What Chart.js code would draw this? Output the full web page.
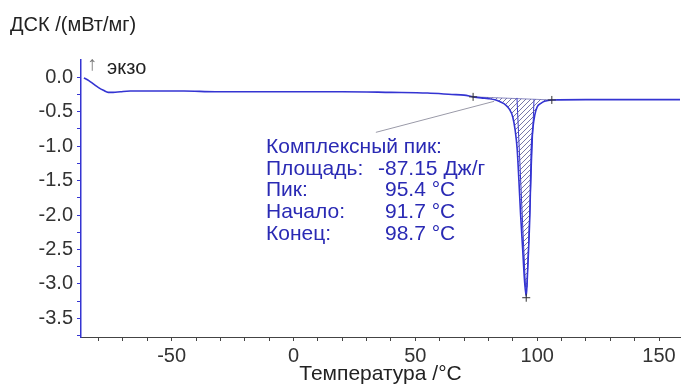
<!DOCTYPE html>
<html>
<head>
<meta charset="utf-8">
<script src="https://cdn.jsdelivr.net/npm/chart.js@4/dist/chart.umd.min.js"></script>
<style>
    html, body { margin: 0; padding: 0; background: #fff; }
    #box { width: 685px; height: 387px; position: relative; }
</style>
</head>
<body>
<div id="box"><canvas id="dscChart"></canvas></div>
<script>
// кривая ДСК (температура °C / мВт/мг)
const temps = [-86, -84, -82, -80, -78, -76, -74, -71, -67, -60, -45, -32, -20, 0, 20, 40, 55, 65, 70, 73.7,
    77, 80, 83, 85, 87, 88.5, 90, 91, 91.8, 92.5, 93.2, 94, 94.8, 95.5, 95.9, 96.5, 97, 97.3, 97.6, 98.2,
    99, 100, 101.5, 103, 106, 120, 140, 160];
const dsc = [-0.01, -0.05, -0.10, -0.15, -0.19, -0.22, -0.22, -0.21, -0.20, -0.20, -0.20, -0.21, -0.21, -0.21, -0.21, -0.22, -0.23, -0.25, -0.26, -0.285,
    -0.30, -0.31, -0.33, -0.36, -0.40, -0.46, -0.58, -0.78, -1.05, -1.5, -2.0, -2.47, -2.95, -3.18, -2.95, -2.47, -1.98, -1.5, -1.05, -0.75,
    -0.55, -0.43, -0.38, -0.35, -0.33, -0.325, -0.325, -0.325];

// базовая линия интегрирования пика
const baseT = [73.7, 106];
const baseV = [-0.285, -0.33];

// касательные (начало / конец)
const tanLeftT = [91.7, 95.2];
const tanLeftV = [-0.30, -3.05];
const tanRightT = [98.7, 95.8];
const tanRightV = [-0.32, -3.05];

// маркеры "+"
const markT = [73.7, 95.5, 106];
const markV = [-0.285, -3.2, -0.33];

// линия-выноска к подписи
const leaderT = [33.8, 82.3];
const leaderV = [-0.80, -0.35];

const xTicks = [-80, -70, -60, -50, -40, -30, -20, -10, 0, 10, 20, 30, 40, 50, 60, 70, 80, 90, 100, 110, 120, 130, 140, 150];
const yTicks = [0, -0.25, -0.5, -0.75, -1.0, -1.25, -1.5, -1.75, -2.0, -2.25, -2.5, -2.75, -3.0, -3.25, -3.5, -3.75];

const peakLabels = ["Комплексный пик:", "Площадь:", "Пик:", "Начало:", "Конец:"];
const peakValues = ["", "-87.15 Дж/г", "95.4 °C", "91.7 °C", "98.7 °C"];

const curveColor = "#3434d2";
const textBlue = "#2a2ab4";
const fontFam = "'Liberation Sans', Arial, sans-serif";

function pts(xs, ys) {
    return xs.map((x, i) => ({x: x, y: ys[i]}));
}

function hatchPattern() {
    const c = document.createElement('canvas');
    c.width = 5;
    c.height = 5;
    const g = c.getContext('2d');
    g.strokeStyle = 'rgba(95,95,150,0.85)';
    g.lineWidth = 1;
    g.beginPath();
    g.moveTo(0, 5); g.lineTo(5, 0);
    g.moveTo(-1, 1); g.lineTo(1, -1);
    g.moveTo(4, 6); g.lineTo(6, 4);
    g.stroke();
    return g.createPattern(c, 'repeat');
}

// подписи поверх графика
const textPlugin = {
    id: 'texts',
    afterDraw(chart) {
        const ctx = chart.ctx;
        ctx.save();
        ctx.textBaseline = 'middle';
        ctx.textAlign = 'left';
        ctx.font = "20px " + fontFam;
        ctx.fillStyle = '#222';
        ctx.fillText("ДСК /(мВт/мг)", 10, 25);
        ctx.fillStyle = '#777';
        ctx.fillText("↑", 87, 64);
        ctx.fillStyle = '#222';
        ctx.fillText("экзо", 107, 68);

        ctx.font = "21px " + fontFam;
        ctx.fillStyle = textBlue;
        const ys = [147, 169, 190, 212, 234];
        for (let i = 0; i < peakLabels.length; i++) {
            ctx.fillText(peakLabels[i], 266, ys[i]);
            if (peakValues[i]) {
                ctx.fillText(peakValues[i], i === 1 ? 378 : 385, ys[i]);
            }
        }
        ctx.restore();
    }
};

function drawChart() {
    const ctx = document.getElementById('dscChart').getContext('2d');
    new Chart(ctx, {
        type: 'line',
        data: {
            datasets: [{
                label: 'ДСК',
                data: pts(temps, dsc),
                borderColor: curveColor,
                borderWidth: 1.6,
                pointRadius: 0,
                cubicInterpolationMode: 'monotone',
                backgroundColor: hatchPattern(),
                fill: {target: 1},
                order: 1
            }, {
                label: 'база',
                data: pts(baseT, baseV),
                borderColor: 'rgba(90,90,170,0.7)',
                borderWidth: 1,
                pointRadius: 0,
                fill: false,
                order: 3
            }, {
                label: 'начало',
                data: pts(tanLeftT, tanLeftV),
                borderColor: curveColor,
                borderWidth: 1,
                pointRadius: 0,
                fill: false,
                order: 2
            }, {
                label: 'конец',
                data: pts(tanRightT, tanRightV),
                borderColor: curveColor,
                borderWidth: 1,
                pointRadius: 0,
                fill: false,
                order: 2
            }, {
                label: 'выноска',
                data: pts(leaderT, leaderV),
                borderColor: '#9a9aa8',
                borderWidth: 1,
                pointRadius: 0,
                fill: false,
                order: 4
            }, {
                label: 'маркеры',
                data: pts(markT, markV),
                showLine: false,
                pointStyle: 'cross',
                pointRadius: 4,
                pointBorderColor: '#333',
                pointBorderWidth: 1,
                order: 0
            }]
        },
        options: {
            responsive: true,
            maintainAspectRatio: false,
            animation: false,
            layout: {padding: {top: 60, right: 1, left: 0, bottom: 0}},
            plugins: {
                legend: {display: false},
                tooltip: {enabled: false}
            },
            scales: {
                x: {
                    type: 'linear',
                    min: -87.2,
                    max: 158.6,
                    afterBuildTicks: s => { s.ticks = xTicks.map(v => ({value: v})); },
                    afterFit: s => { s.height = 50; },
                    grid: {drawOnChartArea: false, drawTicks: true, tickLength: 4, color: '#444'},
                    border: {color: '#444', width: 1},
                    ticks: {
                        autoSkip: false,
                        maxRotation: 0,
                        padding: 3,
                        color: '#333',
                        font: {family: fontFam, size: 20},
                        callback: v => (v % 50 === 0 ? String(v) : '')
                    },
                    title: {
                        display: true,
                        text: 'Температура /°C',
                        color: '#222',
                        font: {family: fontFam, size: 21},
                        padding: {top: 0, bottom: 0}
                    }
                },
                y: {
                    type: 'linear',
                    min: -3.77,
                    max: 0.25,
                    afterBuildTicks: s => { s.ticks = yTicks.map(v => ({value: v})); },
                    afterFit: s => { s.width = 81; },
                    grid: {drawOnChartArea: false, drawTicks: true, tickLength: 4, color: curveColor},
                    border: {color: curveColor, width: 1.5},
                    ticks: {
                        autoSkip: false,
                        padding: 4,
                        color: '#333',
                        font: {family: fontFam, size: 20},
                        callback: v => (Math.abs(v * 2 - Math.round(v * 2)) < 1e-6 ? v.toFixed(1) : '')
                    }
                }
            }
        },
        plugins: [textPlugin]
    });
}

drawChart();
</script>
</body>
</html>
